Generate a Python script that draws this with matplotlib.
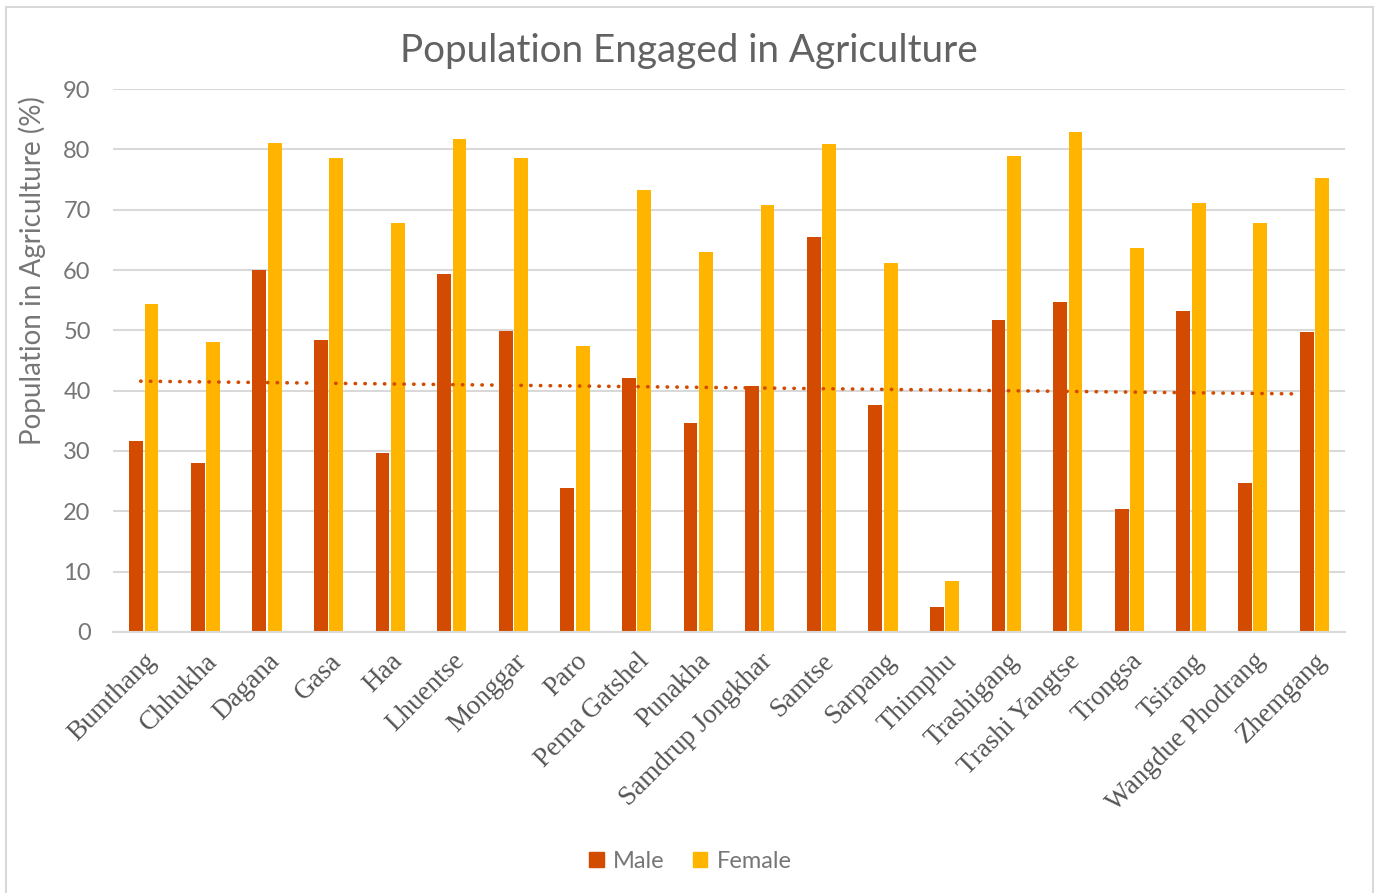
import numpy as np
import matplotlib.pyplot as plt
from matplotlib.patches import Rectangle, Patch

districts = ['Bumthang', 'Chhukha', 'Dagana', 'Gasa', 'Haa', 'Lhuentse',
             'Monggar', 'Paro', 'Pema Gatshel', 'Punakha', 'Samdrup Jongkhar',
             'Samtse', 'Sarpang', 'Thimphu', 'Trashigang', 'Trashi Yangtse',
             'Trongsa', 'Tsirang', 'Wangdue Phodrang', 'Zhemgang']
male = [31.7, 28.0, 60.0, 48.4, 29.7, 59.3, 49.9, 23.9, 42.1, 34.6,
        40.8, 65.5, 37.6, 4.1, 51.7, 54.7, 20.4, 53.2, 24.7, 49.7]
female = [54.4, 48.1, 81.1, 78.6, 67.8, 81.7, 78.6, 47.4, 73.3, 63.0,
          70.8, 80.9, 61.2, 8.5, 78.9, 82.9, 63.6, 71.1, 67.8, 75.3]

MALE_C = '#D24B00'
FEMALE_C = '#FFB500'
GRID_C = '#D9D9D9'
TEXT_C = '#767676'
SANS = ['Lato', 'DejaVu Sans']

fig = plt.figure(figsize=(13.81, 8.93), dpi=100)
ax = fig.add_axes([0.0818, 0.2923, 0.8922, 0.608])

x = np.arange(len(districts))
w = 0.225
ax.bar(x - 0.125, male, w, color=MALE_C, label='Male', zorder=2)
ax.bar(x + 0.125, female, w, color=FEMALE_C, label='Female', zorder=2)

# linear trendline through the male series
coef = np.polyfit(x, male, 1)
tx = np.linspace(x[0] - 0.05, x[-1] - 0.35, 100)
ax.plot(tx, np.polyval(coef, tx), color=MALE_C, lw=2.6,
        linestyle=(0, (0.1, 2.6)), dash_capstyle='round', zorder=3)

ax.set_xlim(-0.5, len(districts) - 0.5)
ax.set_ylim(0, 90)
ax.set_yticks(range(0, 91, 10))
ax.yaxis.grid(True, color=GRID_C, lw=1.5, zorder=0)
ax.set_axisbelow(True)
for s in ['top', 'right', 'left']:
    ax.spines[s].set_visible(False)
ax.spines['bottom'].set_color(GRID_C)
ax.spines['bottom'].set_linewidth(1.5)
ax.tick_params(length=0)
ax.tick_params(axis='y', pad=16, labelsize=17, labelcolor=TEXT_C)
for lab in ax.get_yticklabels():
    lab.set_family(SANS)

ax.set_xticks(x)
ax.set_xticklabels(districts, rotation=45, ha='right', rotation_mode='anchor',
                   family=['Liberation Serif', 'DejaVu Serif'], fontsize=19.5,
                   color='#555555')
ax.tick_params(axis='x', pad=12)

ax.set_ylabel('Population in Agriculture (%)', fontsize=20, color=TEXT_C,
              family=SANS)
ax.yaxis.set_label_coords(-0.054, 0.665)

fig.text(0.499, 0.943, 'Population Engaged in Agriculture', ha='center',
         va='center', fontsize=27.8, color='#626262', family=SANS)

handles = [Patch(color=MALE_C, label='Male'),
           Patch(color=FEMALE_C, label='Female')]
fig.legend(handles=handles, loc='center', bbox_to_anchor=(0.5, 0.035),
           ncol=2, frameon=False, handlelength=0.6, handleheight=0.6,
           handletextpad=0.4, columnspacing=1.2,
           prop={'family': SANS, 'size': 17}, labelcolor=TEXT_C)

fig.patches.append(Rectangle((0.004, -0.01), 0.99, 1.002, transform=fig.transFigure,
                             fill=False, edgecolor=GRID_C, lw=1.5))

fig.savefig('out.png', dpi=100)
